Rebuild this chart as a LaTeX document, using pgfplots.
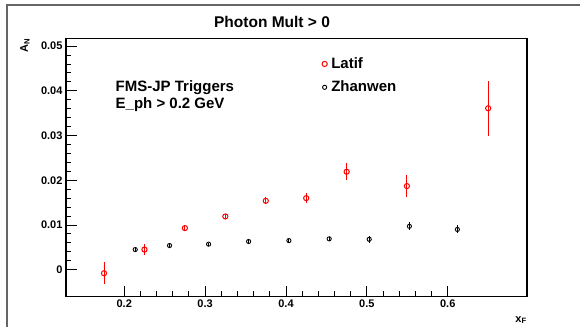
\documentclass[border=0pt]{standalone}
\usepackage{pgfplots}
\pgfplotsset{compat=1.18}
\usepackage{fontspec}
\setmainfont{Liberation Sans}
\setsansfont{Liberation Sans}
\pgfplotstableread{
x y e
0.175 -0.0008 0.0025
0.225 0.0045 0.0012
0.275 0.0093 0.0007
0.325 0.0119 0.0006
0.375 0.0154 0.0008
0.425 0.0160 0.0012
0.475 0.0219 0.0019
0.5495 0.0187 0.0024
0.650 0.0361 0.0061
}\latif
\pgfplotstableread{
x y e
0.2136 0.0045 0.0003
0.2560 0.0054 0.0003
0.3043 0.0057 0.0003
0.3538 0.0063 0.0003
0.4036 0.0065 0.0003
0.4534 0.0069 0.0005
0.5029 0.0068 0.0008
0.5526 0.0097 0.0009
0.6119 0.0090 0.0009
}\zhanwen
\begin{document}
\begin{tikzpicture}[x=1pt,y=1pt]
\path[use as bounding box] (0,0) rectangle (580,327);
\draw[gray!80!black, line width=1.5pt] (7,0) -- (7,322) -- (580,322);
\begin{axis}[
  at={(66pt,30.5pt)}, anchor=south west,
  scale only axis, width=461pt, height=258pt,
  xmin=0.128, xmax=0.698, ymin=-0.006, ymax=0.0517,
  xtick={0.2,0.3,0.4,0.5,0.6},
  ytick={0,0.01,0.02,0.03,0.04,0.05},
  minor x tick num=4, minor y tick num=4,
  tick align=inside, xtick pos=lower, ytick pos=left,
  major tick length=11pt, minor tick length=5.5pt,
  axis line style={line width=1.2pt},
  every tick/.style={line width=0.9pt, black},
  /pgf/number format/assume math mode=true,
  tick label style={font=\bfseries\fontsize{11}{11}\selectfont},
  yticklabel style={/pgf/number format/fixed, /pgf/number format/precision=2},
  xticklabel style={/pgf/number format/fixed, /pgf/number format/precision=1},
  scaled y ticks=false, scaled x ticks=false,
  legend image code/.code={\draw[#1, mark repeat=2, mark phase=2] plot coordinates {(0pt,0pt) (4pt,0pt) (8pt,0pt)};},
  legend style={at={(rel axis cs:0.555,0.93)}, anchor=north west, draw=none, fill=none,
     font=\bfseries\fontsize{15}{15}\selectfont, row sep=9pt, column sep=3pt, inner sep=0pt,
     nodes={inner sep=1pt}},
  legend cell align=left,
]
\addplot[red, line width=1pt, only marks, mark=o, mark size=2.6pt,
  error bars/.cd, y dir=both, y explicit, error mark=none,
  error bar style={line width=1pt, red}]
  table[x=x, y=y, y error=e] {\latif};
\addlegendentry{Latif}
\addplot[black, line width=0.9pt, only marks, mark=o, mark size=2.1pt,
  error bars/.cd, y dir=both, y explicit, error mark=none,
  error bar style={line width=0.9pt, black}]
  table[x=x, y=y, y error=e] {\zhanwen};
\addlegendentry{Zhanwen}
\end{axis}
\node[font=\bfseries\fontsize{15.5}{15.5}\selectfont] at (272,305) {Photon Mult > 0};
\node[anchor=west, font=\bfseries\fontsize{15}{15}\selectfont, inner sep=0pt] at (115.5,239) {FMS-JP Triggers};
\node[anchor=west, font=\bfseries\fontsize{15}{15}\selectfont, inner sep=0pt] at (115.5,222.5) {E\_ph > 0.2 GeV};
\node[rotate=90, anchor=east, font=\bfseries\fontsize{11}{11}\selectfont, inner sep=0pt] at (25,289) {A\textsubscript{N}};
\node[anchor=east, font=\bfseries\fontsize{11}{11}\selectfont, inner sep=0pt] at (527,7) {x\textsubscript{F}};
\end{tikzpicture}
\end{document}
